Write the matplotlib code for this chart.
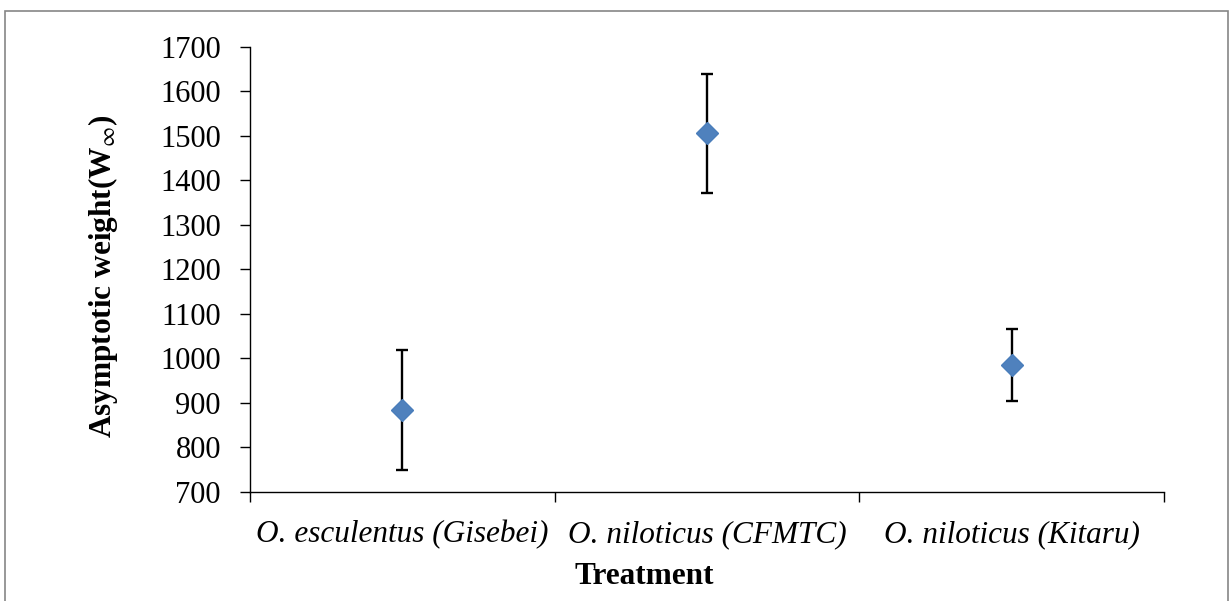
import matplotlib.pyplot as plt
from matplotlib.patches import Rectangle

# data
treatments = ["O. esculentus (Gisebei)", "O. niloticus (CFMTC)", "O. niloticus (Kitaru)"]
w_inf = [884, 1506, 985]
upper = [1019, 1640, 1066]
lower = [750, 1371, 904]

plt.rcParams["font.family"] = ["Liberation Serif", "DejaVu Serif"]
plt.rcParams["mathtext.fontset"] = "stix"

fig = plt.figure(figsize=(12.3, 6.01), dpi=100)
ax = fig.add_axes([0.2033, 0.1814, 0.7430, 0.7404])

x = list(range(len(treatments)))
err_lo = [m - l for m, l in zip(w_inf, lower)]
err_hi = [u - m for m, u in zip(w_inf, upper)]

ax.errorbar(x, w_inf, yerr=[err_lo, err_hi], fmt="none", ecolor="black",
            elinewidth=1.7, capsize=4.3, capthick=1.7, zorder=2)
ax.plot(x, w_inf, linestyle="none", marker="D", markersize=11,
        markerfacecolor="#4F81BD", markeredgecolor="#4A7EBB", zorder=3)

ax.set_ylim(700, 1700)
ax.set_yticks(range(700, 1701, 100))
ax.set_xlim(-0.5, len(treatments) - 0.5)

# Excel-style category axis: ticks between categories
ax.set_xticks([i - 0.5 for i in range(len(treatments) + 1)])
ax.set_xticklabels([])
ax.set_xticks(x, minor=True)
ax.set_xticklabels(treatments, minor=True, fontsize=22.5, style="italic")
ax.tick_params(axis="x", which="minor", length=0, pad=20)
ax.tick_params(axis="x", which="major", length=7, width=1, direction="out")
ax.tick_params(axis="y", length=7, width=1, labelsize=22, pad=14)

for side in ["top", "right"]:
    ax.spines[side].set_visible(False)
for side in ["left", "bottom"]:
    ax.spines[side].set_linewidth(1)

ax.set_ylabel(r"Asymptotic weight(W$_{\infty}$)", fontsize=22.5, fontweight="bold", labelpad=29)
ax.yaxis.label.set_y(0.485)
ax.set_xlabel("Treatment", fontsize=22.5, fontweight="bold", labelpad=9)
ax.xaxis.label.set_x(0.431)

# outer frame like the pasted chart area
fig.patches.append(Rectangle((5 / 1230, -0.01), 1223 / 1230, 1 - 11 / 601 + 0.01,
                             transform=fig.transFigure, fill=False,
                             edgecolor="#868686", linewidth=1.2))

fig.savefig("out.png", dpi=100)
